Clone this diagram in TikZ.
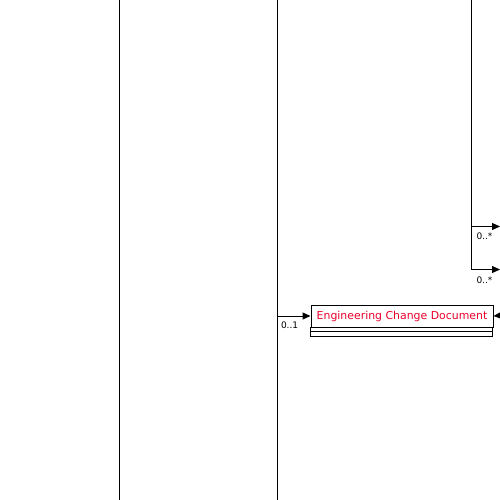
\documentclass[tikz,border=0pt]{standalone}
\usepackage{fontspec}
\setmainfont{DejaVu Sans}
\usetikzlibrary{arrows.meta}
\definecolor{classred}{RGB}{235,0,40}
\begin{document}
\begin{tikzpicture}[x=1pt, y=-1pt, line width=1pt]

\tikzset{assoc/.style={-{Triangle[length=8pt, width=7pt]}},
         mult/.style={font=\fontsize{9}{10}\selectfont, anchor=north west, inner sep=0}}

\useasboundingbox (0,0) rectangle (500,500);

% lifelines
\coordinate (laneA top) at (119.5,0);
\coordinate (laneA bot) at (119.5,500);
\coordinate (laneB top) at (277.5,0);
\coordinate (laneB bot) at (277.5,500);
\draw (laneA top) -- (laneA bot);
\draw (laneB top) -- (laneB bot);

% class box
\node [draw, anchor=north west, minimum width=182, minimum height=22, inner sep=0,
       text=classred, font=\fontsize{10.9}{12}\selectfont] (ecd) at (310.5,304.5) {Engineering Change Document};
\draw (ecd.south west) rectangle ++(182,4) coordinate (ecd attr);
\draw (ecd.south west) ++(0,4) rectangle ++(182,5);

% associations
\coordinate (fork top) at (471.5,0);
\coordinate (fork mid) at (471.5,226.5);
\coordinate (fork low) at (471.5,269.5);
\coordinate (out mid) at (500,226.5);
\coordinate (out low) at (500,269.5);
\coordinate (in left) at (laneB top |- ecd.west);
\coordinate (in right) at (500,315.5);

\draw (fork top) -- (fork low);
\draw [assoc] (fork mid) -- (out mid);
\draw [assoc] (fork low) -- (out low);
\draw [assoc] (in left) -- (ecd.west);
\draw [assoc] (in right) -- (ecd.east);

\node [mult] (m1) at (476,232) {0..*};
\node [mult] (m2) at (476,276) {0..*};
\node [mult] (m3) at (280.5,321) {0..1};

\end{tikzpicture}
\end{document}
